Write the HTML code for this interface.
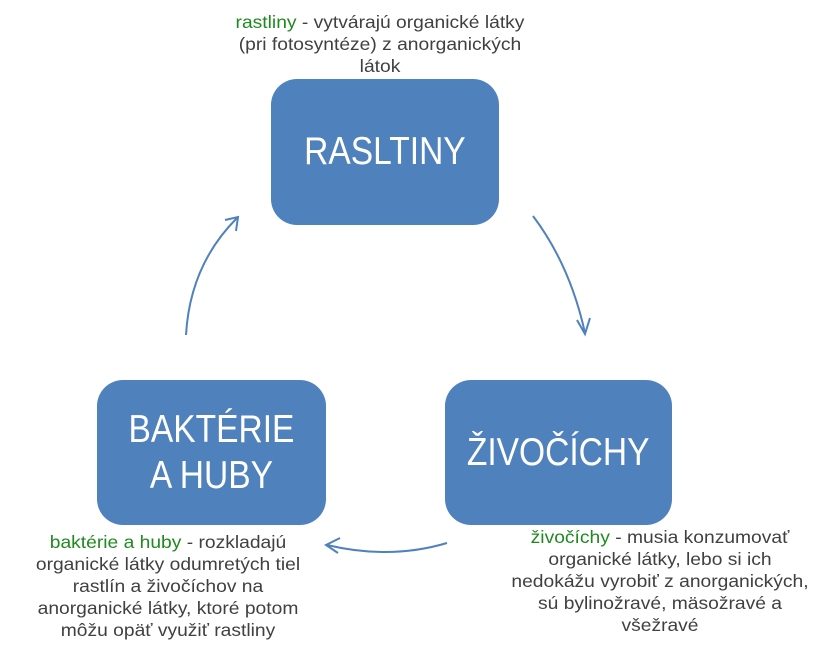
<!DOCTYPE html>
<html><head><meta charset="utf-8"><style>
body{margin:0;width:830px;height:645px;background:#fff;position:relative;overflow:hidden;font-family:"Liberation Sans",sans-serif}
.box{position:absolute;background:#4f81bd;border-radius:26px;color:#fff;display:flex;align-items:center;justify-content:center;text-align:center}
.box span{display:inline-block;font-size:39px;line-height:46px;transform:scaleX(0.86)}
.t{position:absolute;text-align:center;color:#404040;font-size:17.5px;line-height:22px;white-space:nowrap;transform:scaleX(1.1);transform-origin:center}
.g{color:#1f8a1f}
</style></head><body>
<div class="t" style="left:180px;top:11px;width:400px">
<span class="g">rastliny</span> - vytvárajú organické látky<br>(pri fotosyntéze) z anorganických<br>látok</div>
<div class="box" style="left:271px;top:79px;width:228px;height:146px"><span>RASLTINY</span></div>
<div class="box" style="left:97px;top:380px;width:229px;height:145px"><span>BAKTÉRIE<br>A HUBY</span></div>
<div class="box" style="left:445px;top:380px;width:227px;height:145px"><span>ŽIVOČÍCHY</span></div>
<div class="t" style="left:18px;top:531px;width:300px"><span class="g">baktérie a huby</span> - rozkladajú<br>organické látky odumretých tiel<br>rastlín a živočíchov na<br>anorganické látky, ktoré potom<br>môžu opäť využiť rastliny</div>
<div class="t" style="left:510px;top:526px;width:300px"><span class="g">živočíchy</span> - musia konzumovať<br>organické látky, lebo si ich<br>nedokážu vyrobiť z anorganických,<br>sú bylinožravé, mäsožravé a<br>všežravé</div>
<svg width="830" height="645" style="position:absolute;left:0;top:0" fill="none" stroke="#4f81bd" stroke-width="2">
<path d="M533 216 Q570 265 585 333"/><path d="M577 320 L585 334 L590 318"/>
<path d="M447 543 Q390 560 327 545"/><path d="M340 538 L326 545 L338 553"/>
<path d="M186 335 Q190 265 237 218"/><path d="M225 220 L238 217 L236 231"/>
</svg>
</body></html>
